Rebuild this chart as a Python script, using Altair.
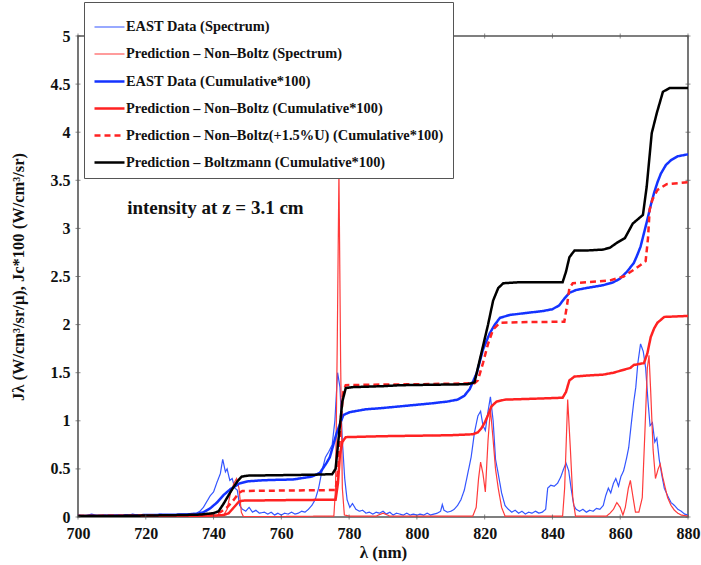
import altair as alt
import pandas as pd

SERIES = [
    "EAST Data (Spectrum)",
    "Prediction – Non–Boltz (Spectrum)",
    "EAST Data (Cumulative*100)",
    "Prediction – Non–Boltz (Cumulative*100)",
    "Prediction – Non–Boltz(+1.5%U) (Cumulative*100)",
    "Prediction – Boltzmann (Cumulative*100)",
]
COLORS = ["#3355ff", "#ff3a3a", "#1433ff", "#ff2222", "#ff2222", "#000000"]
WIDTHS = [1.2, 1.2, 2.5, 2.5, 2.5, 2.5]
DASHES = [[1, 0], [1, 0], [1, 0], [1, 0], [6, 4], [1, 0]]

east_spec_x = [700, 702, 704, 706, 708, 710, 712, 714, 716, 718, 720, 722, 724, 726, 728, 730, 732, 734, 735, 736,
               737, 738, 739, 740, 741, 742, 742.7, 743.5, 744, 744.8, 745.5, 746.3, 747, 747.7, 748.5, 749.5, 750.5,
               751.5, 752.5, 753.5, 755, 756, 757, 758, 759, 760, 761, 762, 763, 764, 765, 766, 767, 768, 769, 770,
               771, 772, 773, 774, 775, 775.8, 776.6, 777.3, 778, 778.7, 779.4, 780.2, 781, 782, 783, 784, 785, 786,
               787, 788, 789, 790, 791, 792, 793, 794, 795, 796, 797, 798, 799, 800, 801, 802, 803, 804, 805, 806,
               807, 807.5, 808, 809, 810, 811, 812, 813, 814, 815, 816, 817, 818, 818.8, 819.5, 820.2, 821, 821.7,
               822.5, 823.2, 824, 825, 826, 827, 828, 829, 830, 831, 832, 833, 834, 835, 836, 837, 838, 838.6, 839.5,
               840.5, 841.5, 842.5, 843.3, 844, 844.8, 845.5, 846.3, 847, 848, 849, 850, 851, 852, 853, 854, 855,
               855.7, 856.5, 857.2, 858, 858.7, 859.5, 860.2, 861, 861.8, 862.5, 863.2, 864, 864.6, 865.2, 866,
               866.8, 867.5, 868.2, 868.8, 869.5, 870.2, 870.8, 871.5, 872.2, 873, 874, 875, 876, 877, 878, 879, 880]
east_spec_y = [0.02, 0.01, 0.03, 0.01, 0.02, 0.01, 0.02, 0.01, 0.03, 0.02, 0.02, 0.01, 0.03, 0.02, 0.02, 0.03, 0.03,
               0.04, 0.04, 0.06, 0.1, 0.16, 0.22, 0.26, 0.36, 0.45, 0.6, 0.47, 0.5, 0.38, 0.4, 0.3, 0.28, 0.12, 0.08,
               0.06, 0.1, 0.05, 0.07, 0.04, 0.05, 0.03, 0.05, 0.02, 0.04, 0.02, 0.04, 0.03, 0.05, 0.03, 0.04, 0.06,
               0.05, 0.08, 0.12, 0.18, 0.3, 0.48, 0.62, 0.68, 0.75, 1.0, 1.5, 1.35, 0.8, 0.4, 0.18, 0.1, 0.14, 0.08,
               0.06, 0.07, 0.04, 0.05, 0.03, 0.05, 0.04, 0.06, 0.03, 0.05, 0.02, 0.04, 0.03, 0.02, 0.04, 0.02, 0.03,
               0.02, 0.03, 0.02, 0.04, 0.02, 0.03, 0.04, 0.06, 0.13, 0.07, 0.05, 0.06, 0.08, 0.12, 0.18, 0.28, 0.45,
               0.62, 0.88, 1.05, 1.1, 0.95, 0.9, 1.1, 1.25, 1.0, 0.6, 0.45, 0.25, 0.12, 0.08, 0.05, 0.07, 0.04, 0.06,
               0.03, 0.05, 0.04, 0.06, 0.04, 0.05, 0.08, 0.3, 0.33, 0.32, 0.35, 0.42, 0.5, 0.56, 0.48, 0.3, 0.12,
               0.08, 0.06, 0.08, 0.05, 0.07, 0.06, 0.09, 0.08, 0.12, 0.22, 0.3, 0.25, 0.35, 0.4, 0.32, 0.42, 0.48,
               0.6, 0.72, 0.95, 1.2, 1.35, 1.6, 1.8, 1.72, 1.55, 1.2, 0.95, 0.98, 0.78, 0.82, 0.6, 0.45, 0.3, 0.22,
               0.15, 0.12, 0.08, 0.06, 0.03, 0.02]

nb_spec_x = [700, 720, 740, 743, 744, 745, 746, 746.8, 747.5, 748.2, 748.8, 760, 775.5, 776, 776.5, 777, 777.5, 778,
             778.6, 780, 788, 790, 792, 816.5, 817.5, 818.2, 818.8, 819.5, 820.2, 821, 821.7, 822.5, 823.2, 824, 825,
             826, 843, 843.6, 844.5, 845.3, 846, 846.8, 856, 857, 858, 859, 860, 860.8, 861.5, 862.4, 863, 863.8,
             864.5, 865.5, 866.5, 867.3, 868, 868.5, 869, 869.7, 870.4, 871.2, 871.8, 872.5, 873.3, 874, 875, 876,
             877, 878, 880]
nb_spec_y = [0.01, 0.01, 0.01, 0.02, 0.08, 0.25, 0.35, 0.4, 0.3, 0.05, 0.005, 0.005, 0.01, 0.3, 1.8, 3.6, 1.6, 0.3,
             0.02, 0.01, 0.01, 0.04, 0.01, 0.01, 0.1, 0.4, 0.57, 0.45, 0.26, 0.8, 1.12, 0.8, 0.5, 0.3, 0.1, 0.01,
             0.01, 0.3, 1.22, 0.7, 0.2, 0.01, 0.01, 0.04, 0.08, 0.15, 0.1, 0.02, 0.1, 0.3, 0.38, 0.2, 0.05, 0.05,
             0.2, 0.9, 1.55, 1.68, 1.3, 0.7, 0.4, 0.5, 0.55, 0.42, 0.3, 0.2, 0.12, 0.07, 0.04, 0.02, 0.01]

east_cum_x = [700, 710, 720, 730, 735, 737, 739, 741, 743, 745, 747.7, 750, 753.6, 757, 763.5, 769, 771.4, 773.3,
              774.3, 776.3, 778.3, 780.2, 785, 789, 795, 804, 809, 812, 814, 815.6, 817.7, 819.5, 821.5, 823, 824.5,
              827.4, 832, 837, 840, 842, 843.5, 845, 847, 850, 855, 858, 860, 862, 864, 865, 866, 867, 868, 869,
              870, 871, 872, 873.5, 875, 877, 880]
east_cum_y = [0.01, 0.015, 0.02, 0.025, 0.03, 0.05, 0.09, 0.15, 0.23, 0.29, 0.35, 0.37, 0.38, 0.385, 0.39, 0.42,
              0.46, 0.56, 0.62, 0.87, 1.06, 1.09, 1.12, 1.13, 1.15, 1.18, 1.2, 1.22, 1.26, 1.33, 1.5, 1.74, 1.91,
              2.0, 2.07, 2.1, 2.12, 2.14, 2.16, 2.2, 2.27, 2.33, 2.36, 2.38, 2.41, 2.44, 2.48, 2.55, 2.64, 2.72,
              2.81, 2.95, 3.09, 3.24, 3.37, 3.48, 3.57, 3.66, 3.71, 3.75, 3.77]

nb_cum_x = [700, 720, 740, 743, 744.5, 745.5, 746.5, 747.5, 748.5, 760, 776, 776.7, 777.3, 778, 779, 790, 800, 810,
            816.5, 818, 819, 820, 821, 822, 823.5, 826, 835, 843, 844, 845, 846.5, 850, 855, 858, 860, 863, 864, 867,
            868, 869, 870, 871, 873, 880]
nb_cum_y = [0.01, 0.01, 0.015, 0.02, 0.04, 0.08, 0.12, 0.16, 0.17, 0.175, 0.18, 0.35, 0.65, 0.78, 0.83, 0.84,
            0.845, 0.85, 0.86, 0.88, 0.92, 0.98, 1.06, 1.15, 1.2, 1.22, 1.23, 1.24, 1.3, 1.42, 1.46, 1.47, 1.48,
            1.5, 1.52, 1.55, 1.58, 1.6, 1.7, 1.87, 1.96, 2.02, 2.08, 2.09]

nbu_cum_x = [700, 720, 735, 740, 742, 744, 746, 747.5, 748.5, 760, 776, 776.8, 777.5, 778.3, 779, 785, 800, 817,
             818, 819.5, 821, 822.5, 824.5, 830, 843.5, 844.3, 845, 846, 850, 857, 861, 864, 866, 867.5, 868.2,
             868.7, 869.5, 871, 873.7, 880]
nbu_cum_y = [0.01, 0.015, 0.02, 0.03, 0.05, 0.1, 0.18, 0.25, 0.27, 0.275, 0.28, 0.5, 1.0, 1.3, 1.37, 1.375, 1.38,
             1.39, 1.42, 1.6, 1.8, 1.95, 2.02, 2.025, 2.03, 2.2, 2.38, 2.43, 2.44, 2.46, 2.5, 2.57, 2.62, 2.66, 2.9,
             3.2, 3.3, 3.4, 3.46, 3.48]

boltz_cum_x = [700, 710, 720, 730, 736, 740, 741.5, 743, 745, 747, 748.3, 750, 760, 770, 775, 776, 777, 778, 779,
               781, 790, 795, 805, 815, 817, 819, 821, 822.5, 824, 825.5, 830, 843, 844, 845, 846.5, 850, 855, 857,
               859, 861.4, 863.7, 866.7, 867.8, 869.3, 870.8, 872.6, 874.6, 880]
boltz_cum_y = [0.01, 0.01, 0.015, 0.02, 0.025, 0.04, 0.06, 0.14, 0.26, 0.37, 0.42, 0.43, 0.435, 0.44, 0.445, 0.5,
               0.85, 1.2, 1.34, 1.35, 1.36, 1.37, 1.375, 1.38, 1.4, 1.7, 2.0, 2.25, 2.38, 2.43, 2.44, 2.44, 2.55, 2.7,
               2.77, 2.77, 2.78, 2.8, 2.85, 2.9, 3.05, 3.14, 3.43, 3.99, 4.2, 4.42, 4.46, 4.46]

note_text = ["intensity at z = 3.1 cm"]
note_x = [714.5]
note_y = [3.21]

x_ticks = [700, 720, 740, 760, 780, 800, 820, 840, 860, 880]
y_ticks = [0, 0.5, 1, 1.5, 2, 2.5, 3, 3.5, 4, 4.5, 5]

pairs = [
    (east_spec_x, east_spec_y),
    (nb_spec_x, nb_spec_y),
    (east_cum_x, east_cum_y),
    (nb_cum_x, nb_cum_y),
    (nbu_cum_x, nbu_cum_y),
    (boltz_cum_x, boltz_cum_y),
]
rows = []
for name, (xs, ys) in zip(SERIES, pairs):
    for i, (a, b) in enumerate(zip(xs, ys)):
        rows.append({"series": name, "x": a, "y": b, "i": i})
df = pd.DataFrame(rows)
note_df = pd.DataFrame({"x": note_x, "y": note_y, "t": note_text})

# inward tick marks along the four frame edges, placed through the scales
xt_df = pd.DataFrame({"x": x_ticks * 2, "y": [0] * len(x_ticks) + [5] * len(x_ticks),
                      "off": [-2.5] * len(x_ticks) + [2.5] * len(x_ticks)})
yt_df = pd.DataFrame({"y": y_ticks * 2, "x": [700] * len(y_ticks) + [880] * len(y_ticks),
                      "off": [2.5] * len(y_ticks) + [-2.5] * len(y_ticks)})

W, H = 610, 481
FONT = "'Liberation Serif', 'DejaVu Serif', serif"
xs_scale = alt.Scale(domain=[700, 880], nice=False, zero=False)
ys_scale = alt.Scale(domain=[0, 5], nice=False, zero=False)

leg = dict(orient="none", legendX=6, legendY=-34, title=None, labelFont=FONT, labelFontSize=14.4,
           labelFontWeight="bold", labelColor="#111", symbolType="stroke", symbolSize=900, rowPadding=4,
           labelOffset=0, padding=9, fillColor="white", strokeColor="#555", labelLimit=500)

lines = alt.Chart(df).mark_line(clip=True).encode(
    x=alt.X("x:Q", scale=xs_scale, axis=alt.Axis(
        orient="bottom", values=x_ticks, tickSize=0, domain=False, grid=False, labelPadding=8,
        labelFlush=False, title="λ (nm)", titlePadding=3, labelFont=FONT, labelFontSize=16,
        labelFontWeight="bold", labelColor="#111", titleFont=FONT, titleFontSize=17,
        titleFontWeight="bold", titleColor="#111")),
    y=alt.Y("y:Q", scale=ys_scale, axis=alt.Axis(
        orient="left", values=y_ticks, format="~g", tickSize=0, domain=False, grid=False, labelPadding=8,
        labelFlush=False, title="Jλ (W/cm³/sr/μ),  Jc*100 (W/cm³/sr)", titlePadding=24, labelFont=FONT,
        labelFontSize=16, labelFontWeight="bold", labelColor="#111", titleFont=FONT, titleFontSize=16.5,
        titleFontWeight="bold", titleColor="#111")),
    color=alt.Color("series:N", scale=alt.Scale(domain=SERIES, range=COLORS), legend=alt.Legend(**leg)),
    strokeDash=alt.StrokeDash("series:N", scale=alt.Scale(domain=SERIES, range=DASHES),
                              legend=alt.Legend(**leg)),
    strokeWidth=alt.StrokeWidth("series:N", scale=alt.Scale(type="ordinal", domain=SERIES, range=WIDTHS),
                                legend=alt.Legend(**leg)),
    order="i:Q",
)

note = alt.Chart(note_df).mark_text(align="left", baseline="middle", font=FONT, fontSize=19,
                                    fontWeight="bold", color="#111").encode(
    x=alt.X("x:Q", scale=xs_scale),
    y=alt.Y("y:Q", scale=ys_scale),
    text="t:N",
)

xticks_layer = alt.Chart(xt_df).mark_tick(orient="vertical", size=5, thickness=1, color="#555").encode(
    x=alt.X("x:Q", scale=xs_scale),
    y=alt.Y("y:Q", scale=ys_scale),
    yOffset=alt.YOffset("off:Q", scale=None),
)
yticks_layer = alt.Chart(yt_df).mark_tick(orient="horizontal", size=5, thickness=1, color="#555").encode(
    x=alt.X("x:Q", scale=xs_scale),
    y=alt.Y("y:Q", scale=ys_scale),
    xOffset=alt.XOffset("off:Q", scale=None),
)

chart = alt.layer(lines, note, xticks_layer, yticks_layer).properties(
    width=W, height=H,
    autosize=alt.AutoSizeParams(type="none"),
    padding={"left": 78, "top": 36, "right": 13, "bottom": 48},
    background="white",
).configure_view(stroke="#555", strokeWidth=1.6)

chart.save("out.html", embed_options={"renderer": "svg", "actions": False})
